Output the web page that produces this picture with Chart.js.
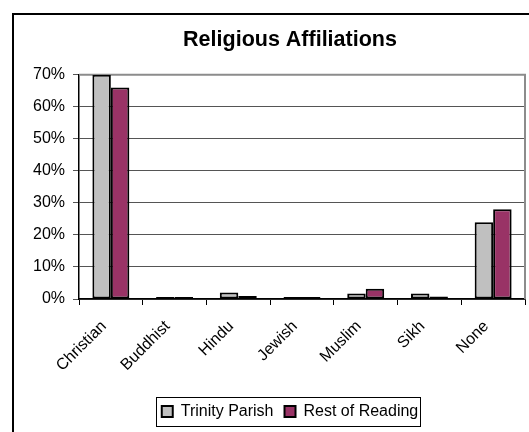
<!DOCTYPE html>
<html><head><meta charset="utf-8">
<script src="https://cdn.jsdelivr.net/npm/chart.js@4/dist/chart.umd.min.js"></script>
<style>
html,body{margin:0;padding:0;background:#fff;overflow:hidden;width:529px;height:432px;}
#frame{position:absolute;left:12px;top:13px;width:600px;height:500px;border-left:2px solid #000;border-top:2px solid #000;background:#fff;}
#c{position:absolute;left:0;top:0;}
</style></head><body>
<div id="frame"><canvas id="c" width="552" height="417"></canvas></div>
<script>
const categories = ["Christian", "Buddhist", "Hindu", "Jewish", "Muslim", "Sikh", "None"];
const trinityParish = [70, 0.3, 2.0, 0.2, 1.7, 1.7, 24];
const restOfReading = [66, 0.3, 0.9, 0.2, 3.2, 0.8, 28];
const seriesNames = ["Trinity Parish", "Rest of Reading"];
const yMin = 0, yMax = 70, yStep = 10;
const FONT = "'Liberation Sans', Arial, sans-serif";

const plotFrame = {
  id: 'plotFrame',
  beforeDatasetsDraw(chart) {
    const {ctx, chartArea: a} = chart;
    ctx.save();
    ctx.strokeStyle = '#8c8c8c';
    ctx.lineWidth = 2;
    ctx.beginPath();
    ctx.moveTo(a.left, a.top);
    ctx.lineTo(a.right, a.top);
    ctx.lineTo(a.right, a.bottom);
    ctx.stroke();
    ctx.restore();
  }
};
const legendFrame = {
  id: 'legendFrame',
  afterDraw(chart) {
    const lg = chart.legend;
    if (!lg || !lg.legendHitBoxes || !lg.legendHitBoxes.length) return;
    const hb = lg.legendHitBoxes;
    const first = hb[0], last = hb[hb.length - 1];
    const left = first.left - 6, right = last.left + last.width + 2;
    const cy = first.top + first.height / 2;
    const ctx = chart.ctx;
    ctx.save();
    ctx.strokeStyle = '#000';
    ctx.lineWidth = 1;
    ctx.strokeRect(Math.round(left) + 0.5, Math.round(cy - 14.5) + 0.5, Math.round(right - left), 29);
    ctx.restore();
  }
};

new Chart(document.getElementById('c'), {
  type: 'bar',
  data: {
    labels: categories,
    datasets: [
      {label: seriesNames[0], data: trinityParish, backgroundColor: '#c0c0c0', borderColor: '#000', borderWidth: 2, borderSkipped: false, minBarLength: 2},
      {label: seriesNames[1], data: restOfReading, backgroundColor: '#993366', borderColor: '#000', borderWidth: 2, borderSkipped: false, minBarLength: 2}
    ]
  },
  options: {
    responsive: false,
    animation: false,
    devicePixelRatio: 1,
    datasets: {bar: {barPercentage: 1, categoryPercentage: 0.58}},
    layout: {padding: {left: 0, right: 0, top: 0, bottom: 2.5}},
    plugins: {
      title: {display: true, text: 'Religious Affiliations', color: '#000',
        font: {family: FONT, size: 21.5, weight: 'bold'}, padding: {top: 12, bottom: 22}},
      legend: {position: 'bottom',
        labels: {color: '#000', font: {family: FONT, size: 16}, boxWidth: 11, boxHeight: 11, padding: 11}},
      tooltip: {enabled: false}
    },
    scales: {
      x: {
        grid: {display: true, drawOnChartArea: false, drawTicks: true, tickLength: 6, color: '#000', offset: true},
        border: {color: '#000', width: 1.5},
        ticks: {minRotation: 45, maxRotation: 45, autoSkip: false, color: '#000', padding: 12, labelOffset: -7, font: {family: FONT, size: 16}},
        afterFit(s) { s.height = 93.5; }
      },
      y: {
        min: yMin, max: yMax,
        grid: {color: '#555', lineWidth: 1, tickLength: 6},
        border: {color: '#000', width: 1.5},
        ticks: {stepSize: yStep, color: '#000', padding: 8, font: {family: FONT, size: 16},
          callback: v => v + '%'},
        afterFit(s) { s.width = 65; }
      },
      yPad: {
        position: 'right', display: true, min: yMin, max: yMax,
        grid: {display: false, drawTicks: false}, border: {display: false},
        ticks: {display: false},
        afterFit(s) { s.width = 552 - 511; }
      }
    }
  },
  plugins: [plotFrame, legendFrame]
});
</script>
</body></html>
